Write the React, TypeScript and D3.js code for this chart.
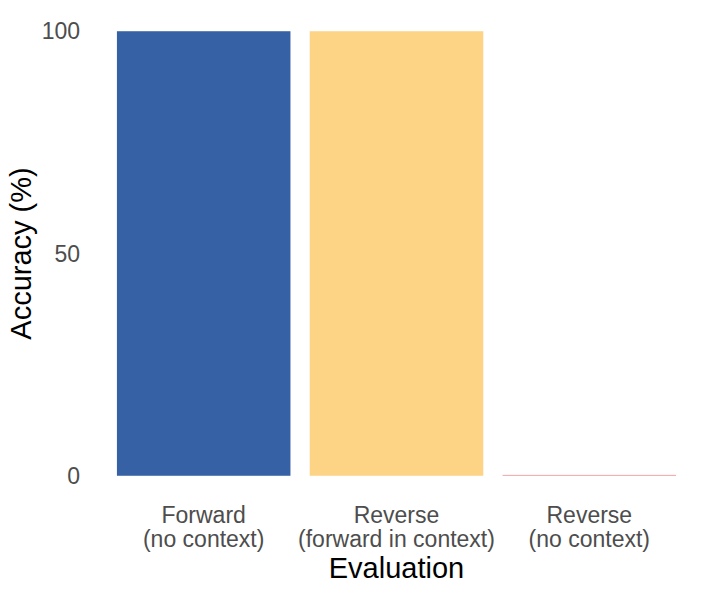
import React from "react";
import * as d3 from "d3";

const categories = ["Forward\n(no context)", "Reverse\n(forward in context)", "Reverse\n(no context)"];
const values = [100, 100, 0.2];
const colors = ["#3761A5", "#FDD386", "#F19A9A"];
const yTicks = [0, 50, 100];

const W = 714;
const H = 595;
const panel = { left: 88, right: 705, top: 9, bottom: 498 };
const FONT = "'Liberation Sans', Arial, Helvetica, sans-serif";

export default function App() {
  const x = d3
    .scaleBand<string>()
    .domain(categories)
    .range([panel.left, panel.right])
    .paddingInner(0.1)
    .paddingOuter(0.15);
  const y = d3
    .scaleLinear()
    .domain([-5, 105])
    .range([panel.bottom, panel.top]);

  return (
    <svg
      width={W}
      height={H}
      style={{ position: "absolute", left: 0, top: 0, background: "#fff" }}
      fontFamily={FONT}
    >
      {categories.map((c, i) => (
        <rect
          key={c}
          x={x(c)!}
          y={y(values[i])}
          width={x.bandwidth()}
          height={y(0) - y(values[i])}
          fill={colors[i]}
        />
      ))}
      {yTicks.map((t) => (
        <text
          key={t}
          x={panel.left - 8}
          y={y(t)}
          dy="0.35em"
          textAnchor="end"
          fontSize={23}
          fill="#4D4D4D"
        >
          {t}
        </text>
      ))}
      {categories.map((c) => {
        const lines = c.split("\n");
        const cx = x(c)! + x.bandwidth() / 2;
        return (
          <text key={c} textAnchor="middle" fontSize={23} fill="#4D4D4D">
            {lines.map((l, j) => (
              <tspan key={j} x={cx} y={523 + j * 23.5}>
                {l}
              </tspan>
            ))}
          </text>
        );
      })}
      <text
        x={(panel.left + panel.right) / 2}
        y={577.5}
        textAnchor="middle"
        fontSize={29}
        fill="#000"
      >
        Evaluation
      </text>
      <text
        transform={`translate(31,${(panel.top + panel.bottom) / 2}) rotate(-90)`}
        textAnchor="middle"
        fontSize={29}
        fill="#000"
      >
        Accuracy (%)
      </text>
    </svg>
  );
}
